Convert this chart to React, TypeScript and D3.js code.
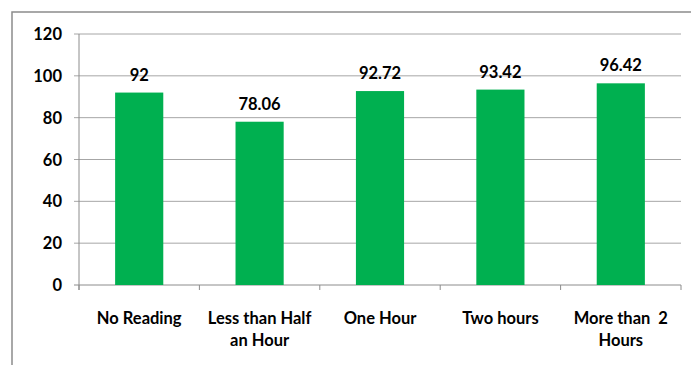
import React from "react";
import * as d3 from "d3";

const categories: string[][] = [
  ["No Reading"],
  ["Less than Half", "an Hour"],
  ["One Hour"],
  ["Two hours"],
  ["More than  2", "Hours"],
];
const values: number[] = [92, 78.06, 92.72, 93.42, 96.42];
const valueLabels: string[] = ["92", "78.06", "92.72", "93.42", "96.42"];
const yTicks: number[] = [0, 20, 40, 60, 80, 100, 120];

const W = 691;
const H = 365;
const left = 79;
const right = 681;
const top = 34;
const bottom = 285;
const font = "Lato, 'Open Sans', sans-serif";
const fs = 16.5;

export default function App() {
  const x = d3
    .scaleBand<number>()
    .domain(d3.range(values.length))
    .range([left, right])
    .paddingInner(0.6)
    .paddingOuter(0.3);
  const band = d3.scaleBand<number>().domain(d3.range(values.length)).range([left, right]);
  const y = d3.scaleLinear().domain([0, 120]).range([bottom, top]);

  return (
    <svg
      width={W}
      height={H}
      style={{ position: "absolute", left: 0, top: 0, background: "#fff" }}
    >
      <rect x={12} y={12} width={W} height={H} fill="none" stroke="#8c8c8c" strokeWidth={1.5} />
      {yTicks.map((t) => (
        <g key={t}>
          <line x1={74} x2={right} y1={y(t)} y2={y(t)} stroke={t === 0 ? "#8c8c8c" : "#a6a6a6"} strokeWidth={1} />
          <text
            x={62}
            y={y(t)}
            textAnchor="end"
            dominantBaseline="central"
            fontFamily={font}
            fontWeight="bold"
            fontSize={fs}
            fill="#000"
          >
            {t}
          </text>
        </g>
      ))}
      <line x1={left} x2={left} y1={top} y2={bottom + 5} stroke="#8c8c8c" strokeWidth={1} />
      {d3.range(values.length + 1).map((i) => {
        const xx = i < values.length ? band(i)! : right;
        return <line key={i} x1={xx} x2={xx} y1={bottom} y2={bottom + 5} stroke="#8c8c8c" strokeWidth={1} />;
      })}
      {values.map((v, i) => (
        <g key={i}>
          <rect x={x(i)} y={y(v)} width={x.bandwidth()} height={bottom - y(v)} fill="#00b050" />
          <text
            x={x(i)! + x.bandwidth() / 2}
            y={y(v) - 12}
            textAnchor="middle"
            fontFamily={font}
            fontWeight="bold"
            fontSize={fs}
            fill="#000"
          >
            {valueLabels[i]}
          </text>
          {categories[i].map((line, j) => (
            <text
              key={j}
              x={band(i)! + band.bandwidth() / 2}
              y={318 + j * 22}
              textAnchor="middle"
              dominantBaseline="central"
              fontFamily={font}
              fontWeight="bold"
              fontSize={fs}
              fill="#000"
              style={{ whiteSpace: "pre" }}
            >
              {line}
            </text>
          ))}
        </g>
      ))}
    </svg>
  );
}
